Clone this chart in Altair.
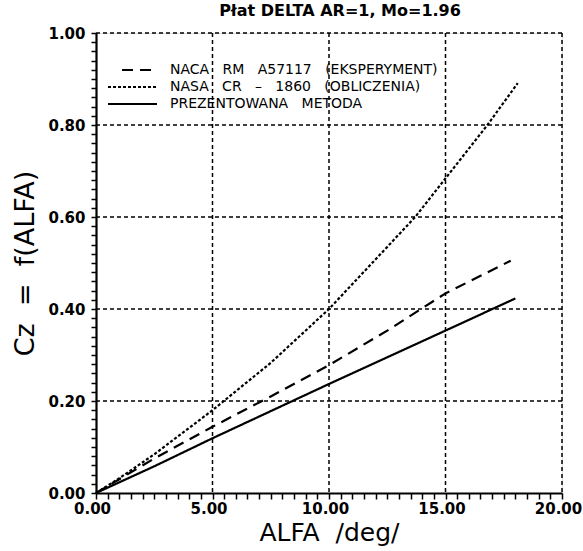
import altair as alt
import pandas as pd

# ---- data ----
alfa_naca = [0.0, 1.0, 2.5, 5.0, 7.5, 10.0, 12.5, 15.0, 17.8]
cz_naca = [0.0, 0.030, 0.075, 0.144, 0.210, 0.278, 0.353, 0.434, 0.505]

alfa_nasa = [0.0, 1.0, 2.5, 5.0, 7.5, 10.0, 12.5, 13.7, 15.0, 16.8, 18.1]
cz_nasa = [0.0, 0.032, 0.084, 0.180, 0.283, 0.400, 0.535, 0.600, 0.684, 0.800, 0.891]

alfa_metoda = [0.0, 2.5, 5.0, 7.5, 10.0, 12.5, 15.0, 18.0]
cz_metoda = [0.0, 0.058, 0.119, 0.178, 0.237, 0.295, 0.353, 0.423]

NB = "\u00a0"
series_labels = [
    f"NACA{NB*3}RM{NB*3}A57117{NB*3}(EKSPERYMENT)",
    f"NASA{NB*3}CR{NB*3}–{NB*3}1860{NB*3}(OBLICZENIA)",
    f"PREZENTOWANA{NB*3}METODA",
]
series_dash = [[11, 7], [3, 2], [1, 0]]

x_ticks = [i * 0.5 for i in range(41)]
y_ticks = [round(i * 0.02, 2) for i in range(51)]
x_major = [0, 5, 10, 15, 20]
y_major = [0.0, 0.2, 0.4, 0.6, 0.8, 1.0]

title_text = "Płat DELTA AR=1, Mo=1.96"
x_title = f"ALFA{NB*2}/deg/"
y_title = f"Cz{NB*2}={NB*2}f(ALFA)"

rows = []
for lab, xs, ys in zip(series_labels, [alfa_naca, alfa_nasa, alfa_metoda],
                       [cz_naca, cz_nasa, cz_metoda]):
    for i, (a, c) in enumerate(zip(xs, ys)):
        rows.append({"series": lab, "alfa": a, "cz": c, "order": i})
df = pd.DataFrame(rows)

FONT = "DejaVu Sans"

x_scale = alt.Scale(domain=[0, 20], nice=False, zero=False)
y_scale = alt.Scale(domain=[0, 1], nice=False)

# axes that carry only the axis line and the small ticks
x_tick_axis = alt.Axis(
    orient="bottom", title=None, values=x_ticks, labels=False,
    domainColor="black", domainWidth=2.2,
    ticks=True, tickColor="black", tickWidth=1.5, tickSize=6, grid=False,
)
y_tick_axis = alt.Axis(
    orient="left", title=None, values=y_ticks, labels=False,
    domainColor="black", domainWidth=2.2,
    ticks=True, tickColor="black", tickWidth=1.5, tickSize=5, grid=False,
)
# axes that carry the labels and titles
x_label_axis = alt.Axis(
    orient="bottom", title=x_title, values=x_major, format=".2f",
    labelFont=FONT, labelFontSize=15, labelFontWeight="bold",
    labelColor="black", labelPadding=8, labelOffset=-4,
    labelFlush=False, labelOverlap=False,
    titleFont=FONT, titleFontSize=25, titleFontWeight="normal",
    titleColor="black", titlePadding=4,
    domain=False, ticks=False, grid=False,
)
y_label_axis = alt.Axis(
    orient="left", title=y_title, values=y_major, format=".2f",
    labelFont=FONT, labelFontSize=15, labelFontWeight="bold",
    labelColor="black", labelPadding=11,
    labelFlush=False, labelOverlap=False,
    titleFont=FONT, titleFontSize=27, titleFontWeight="normal",
    titleColor="black", titlePadding=8,
    domain=False, ticks=False, grid=False,
)

# dashed grid at the major ticks
x_grid = alt.Chart(pd.DataFrame({"v": x_major[1:]})).mark_rule(
    color="black", strokeWidth=1.5, strokeDash=[4, 3]).encode(
    x=alt.X("v:Q", scale=x_scale, axis=x_tick_axis))
y_grid = alt.Chart(pd.DataFrame({"v": y_major[1:]})).mark_rule(
    color="black", strokeWidth=1.5, strokeDash=[4, 3]).encode(
    y=alt.Y("v:Q", scale=y_scale, axis=y_tick_axis))

lines = alt.Chart(df).mark_line(color="black", strokeWidth=2.2).encode(
    x=alt.X("alfa:Q", scale=x_scale, axis=x_label_axis),
    y=alt.Y("cz:Q", scale=y_scale, axis=y_label_axis),
    strokeDash=alt.StrokeDash(
        "series:N",
        scale=alt.Scale(domain=series_labels, range=series_dash),
        legend=None,
    ),
    order="order:Q",
)

# ---- hand-drawn legend (inside the plot, top-left) ----
legend_rows_y = [37, 54, 71]
legend_sym_x = [(26, 57), (12, 61), (12, 61)]
legend_layers = []
for lab, dash, yy, (xa, xb) in zip(series_labels, series_dash, legend_rows_y, legend_sym_x):
    src = alt.Chart(pd.DataFrame({"label": [lab]}))
    legend_layers.append(
        src.mark_rule(color="black", strokeWidth=2, strokeDash=dash).encode(
            x=alt.value(xa), x2=alt.value(xb), y=alt.value(yy))
    )
    legend_layers.append(
        src.mark_text(font=FONT, fontSize=14, color="black", align="left",
                      baseline="middle").encode(
            text="label:N", x=alt.value(74), y=alt.value(yy))
    )

chart = alt.layer(x_grid, y_grid, lines, *legend_layers).resolve_axis(
    x="independent", y="independent"
).properties(
    width=466, height=460,
    title=alt.TitleParams(title_text, font=FONT, fontSize=16, fontWeight="bold",
                          color="black", anchor="middle", dx=11, offset=7),
    padding={"left": 96, "top": 33, "right": 21, "bottom": 58},
    autosize=alt.AutoSizeParams(type="none"),
).configure_view(stroke=None).configure(background="white")

chart.save("out.html", embed_options={"renderer": "svg", "actions": False})
